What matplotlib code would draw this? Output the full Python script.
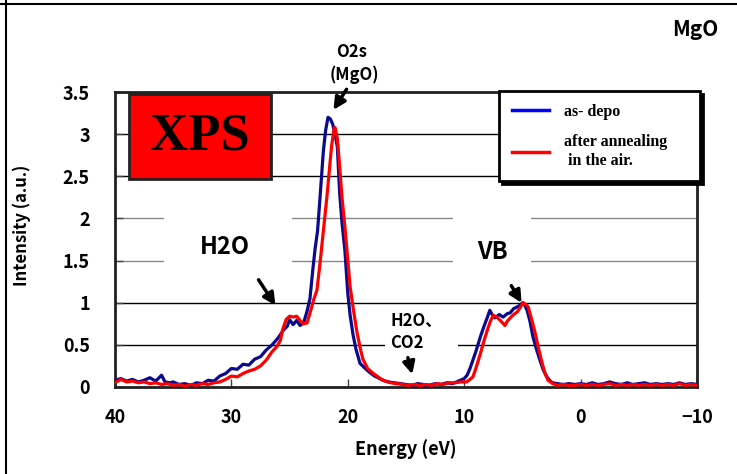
import matplotlib
matplotlib.use("Agg")
import matplotlib.pyplot as plt
from matplotlib.patches import Rectangle
from matplotlib.lines import Line2D

plt.rcParams['font.family'] = ['Noto Sans CJK JP', 'DejaVu Sans']

# as-depo spectrum (energy eV, intensity a.u.)
depo_energy = [40.0, 39.5, 39.0, 38.5, 38.0, 37.5, 37.0, 36.5, 36.0, 35.7, 35.3, 35.0,
               34.5, 34.0, 33.5, 33.0, 32.5, 32.0, 31.5, 31.0, 30.5, 30.0, 29.5, 29.0,
               28.5, 28.0, 27.5, 27.0, 26.5, 26.0, 25.5, 25.2, 25.0, 24.7, 24.4, 24.1,
               23.8, 23.5, 23.25, 23.0, 22.8, 22.6, 22.4, 22.1, 21.9, 21.7, 21.5, 21.3,
               21.1, 20.9, 20.7, 20.5, 20.25, 20.0, 19.8, 19.55, 19.3, 18.95, 18.5, 18.1,
               17.7, 17.4, 17.0, 16.5, 16.0, 15.5, 15.0, 14.5, 14.0, 13.5, 13.0, 12.5,
               12.0, 11.5, 11.0, 10.5, 10.0, 9.75, 9.5, 9.25, 9.0, 8.6, 8.3, 8.0,
               7.8, 7.6, 7.35, 7.0, 6.65, 6.3, 6.05, 5.75, 5.45, 5.2, 5.0, 4.8,
               4.6, 4.35, 4.1, 3.8, 3.5, 3.2, 2.9, 2.6, 2.4, 2.0, 1.5, 1.0,
               0.5, 0.0, -0.5, -1.0, -1.5, -2.0, -2.5, -3.0, -3.5, -4.0, -4.5, -5.0,
               -5.5, -6.0, -6.5, -7.0, -7.5, -8.0, -8.5, -9.0, -9.5, -10.0]
depo_int = [0.08, 0.10, 0.07, 0.09, 0.06, 0.08, 0.11, 0.07, 0.14, 0.06, 0.05, 0.06,
            0.03, 0.04, 0.02, 0.05, 0.04, 0.08, 0.07, 0.13, 0.16, 0.22, 0.21, 0.27,
            0.26, 0.33, 0.36, 0.44, 0.50, 0.58, 0.68, 0.72, 0.80, 0.74, 0.79, 0.73,
            0.76, 0.90, 1.05, 1.40, 1.65, 1.85, 2.22, 2.80, 3.05, 3.20, 3.18, 3.12,
            3.00, 2.85, 2.30, 1.95, 1.62, 1.11, 0.85, 0.62, 0.45, 0.28, 0.22, 0.17,
            0.13, 0.11, 0.08, 0.06, 0.05, 0.04, 0.03, 0.02, 0.04, 0.03, 0.02, 0.04,
            0.03, 0.05, 0.04, 0.07, 0.10, 0.14, 0.22, 0.32, 0.42, 0.60, 0.72, 0.83,
            0.91, 0.86, 0.82, 0.86, 0.83, 0.87, 0.88, 0.93, 0.95, 0.97, 1.00, 0.97,
            0.91, 0.78, 0.60, 0.45, 0.32, 0.20, 0.12, 0.07, 0.05, 0.04, 0.03, 0.04,
            0.03, 0.04, 0.03, 0.05, 0.03, 0.04, 0.06, 0.04, 0.03, 0.05, 0.03, 0.04,
            0.05, 0.03, 0.04, 0.03, 0.04, 0.03, 0.05, 0.03, 0.04, 0.03]

# after annealing in the air
anneal_energy = [40.0, 39.5, 39.0, 38.5, 38.0, 37.5, 37.0, 36.5, 36.0, 35.5, 35.0, 34.5,
                 34.0, 33.5, 33.0, 32.5, 32.0, 31.5, 31.0, 30.5, 30.0, 29.5, 29.0, 28.5,
                 28.0, 27.5, 27.0, 26.5, 26.1, 25.8, 25.6, 25.3, 25.0, 24.7, 24.4, 24.1,
                 23.8, 23.5, 23.2, 22.9, 22.65, 22.4, 22.2, 22.0, 21.8, 21.6, 21.4, 21.2,
                 21.1, 20.9, 20.7, 20.5, 20.25, 20.0, 19.8, 19.5, 19.2, 18.9, 18.7, 18.3,
                 17.8, 17.2, 16.8, 16.3, 15.8, 15.3, 14.8, 14.3, 13.8, 13.3, 12.8, 12.3,
                 11.8, 11.3, 10.8, 10.3, 9.8, 9.5, 9.25, 9.0, 8.6, 8.3, 8.0, 7.75,
                 7.5, 7.2, 6.9, 6.7, 6.5, 6.3, 6.05, 5.75, 5.45, 5.2, 4.95, 4.7,
                 4.5, 4.2, 3.9, 3.6, 3.3, 3.05, 2.8, 2.4, 2.0, 1.5, 1.0, 0.5,
                 0.0, -0.5, -1.0, -1.5, -2.0, -2.5, -3.0, -3.5, -4.0, -4.5, -5.0, -5.5,
                 -6.0, -6.5, -7.0, -7.5, -8.0, -8.5, -9.0, -9.5, -10.0]
anneal_int = [0.05, 0.09, 0.06, 0.07, 0.05, 0.06, 0.04, 0.05, 0.03, 0.04, 0.02, 0.03,
              0.01, 0.03, 0.02, 0.04, 0.03, 0.05, 0.06, 0.09, 0.13, 0.12, 0.16, 0.19,
              0.21, 0.25, 0.32, 0.42, 0.48, 0.55, 0.68, 0.80, 0.84, 0.83, 0.84, 0.79,
              0.75, 0.76, 0.90, 1.05, 1.15, 1.45, 1.72, 2.00, 2.25, 2.55, 2.85, 3.05,
              3.08, 2.95, 2.62, 2.25, 1.90, 1.50, 1.19, 0.90, 0.64, 0.44, 0.33, 0.22,
              0.16, 0.10, 0.07, 0.05, 0.04, 0.03, 0.02, 0.03, 0.02, 0.03, 0.02, 0.04,
              0.03, 0.05, 0.05, 0.06, 0.06, 0.09, 0.12, 0.22, 0.40, 0.55, 0.68, 0.78,
              0.85, 0.83, 0.79, 0.76, 0.73, 0.78, 0.82, 0.86, 0.89, 0.94, 1.00, 0.98,
              0.95, 0.80, 0.64, 0.45, 0.28, 0.16, 0.08, 0.04, 0.02, 0.03, 0.02, 0.02,
              0.03, 0.02, 0.03, 0.02, 0.03, 0.04, 0.02, 0.03, 0.02, 0.03, 0.02, 0.03,
              0.02, 0.03, 0.02, 0.03, 0.02, 0.04, 0.02, 0.03, 0.02]

xticks = [40, 30, 20, 10, 0, -10]
xtick_labels = ['40', '30', '20', '10', '0', '\u221210']
yticks = [0, 0.5, 1, 1.5, 2, 2.5, 3, 3.5]
ytick_labels = ['0', '0.5', '1', '1.5', '2', '2.5', '3', '3.5']
legend_labels = ['as- depo', 'after annealing\n in the air.']

fig = plt.figure(figsize=(7.37, 4.74), dpi=100)
ax = fig.add_axes([115/737, 1 - 387/474, 582/737, 295/474])

# horizontal grid
for y in yticks[1:-1]:
    c = '#888888' if y in (1.5, 2) else 'black'
    ax.axhline(y, color=c, lw=1, zorder=1)

# white backgrounds behind the labels hide the grid
for x0, x1, y0, y1 in [(24.8, 35.8, 1.3, 2.2), (4.3, 11.0, 1.3, 2.2), (10.5, 16.8, 0.35, 0.95)]:
    ax.add_patch(Rectangle((x1, y0), x0 - x1, y1 - y0, facecolor='white',
                           edgecolor='none', zorder=1.5))

ax.plot(depo_energy, depo_int, color='#0a0a8c', lw=2.3, zorder=3)
ax.plot(anneal_energy, anneal_int, color='#ff0000', lw=2.3, zorder=4)

ax.set_xlim(40, -10)
ax.set_ylim(0, 3.5)
ax.set_xticks(xticks)
ax.set_xticklabels(xtick_labels)
ax.set_yticks(yticks)
ax.set_yticklabels(ytick_labels)
ax.tick_params(axis='both', direction='in', length=6, width=1, color='#444444',
               labelsize=13)
ax.tick_params(axis='y', pad=18)
ax.tick_params(axis='x', pad=15)
for lab in ax.get_xticklabels() + ax.get_yticklabels():
    lab.set_fontweight('bold')
for s in ax.spines.values():
    s.set_linewidth(2)
    s.set_color('#202020')

ax.set_xlabel('Energy (eV)', fontsize=13, fontweight='bold')
ax.set_ylabel('Intensity (a.u.)', fontsize=12, fontweight='bold')
ax.xaxis.set_label_coords(0.5, -0.175)
ax.yaxis.set_label_coords(-0.145, 0.549)

# XPS box
ax.add_patch(Rectangle((26.6, 2.467), 12.2, 1.01, facecolor='#ff0000',
                       edgecolor='#222222', lw=2, zorder=5))
ax.text(32.7, 2.97, 'XPS', family='Liberation Serif', fontweight='bold',
        fontsize=38, ha='center', va='center', zorder=6)

# annotations
arrow = dict(arrowstyle='-|>', lw=2.5, color='black', mutation_scale=18)
ax.annotate('', xy=(21.36, 3.26), xytext=(19.98, 3.56), arrowprops=arrow,
            annotation_clip=False, zorder=6)
ax.text(19.64, 3.97, 'O2s', fontsize=12, fontweight='bold', ha='center',
        va='center', clip_on=False)
ax.text(19.47, 3.70, '(MgO)', fontsize=12, fontweight='bold', ha='center',
        va='center', clip_on=False)

ax.text(30.55, 1.66, 'H2O', fontsize=17, fontweight='bold', ha='center',
        va='center', zorder=6)
ax.annotate('', xy=(26.08, 0.94), xytext=(27.8, 1.30), arrowprops=arrow, zorder=6)

ax.text(7.61, 1.60, 'VB', fontsize=17, fontweight='bold', ha='center',
        va='center', zorder=6)
ax.annotate('', xy=(4.95, 0.97), xytext=(6.07, 1.23), arrowprops=arrow, zorder=6)

ax.text(16.37, 0.79, 'H2O\u3001', fontsize=12, fontweight='bold', ha='left',
        va='center', zorder=6)
ax.text(16.37, 0.52, 'CO2', fontsize=12, fontweight='bold', ha='left',
        va='center', zorder=6)
ax.annotate('', xy=(14.4, 0.12), xytext=(14.9, 0.38), arrowprops=arrow, zorder=6)

handles = [Line2D([], [], color='#0000ff', lw=2.5), Line2D([], [], color='#ff0000', lw=2.5)]
leg = ax.legend(handles, legend_labels, loc='upper left',
                bbox_to_anchor=(499/737, 1 - 182/474, 201/737, 91/474),
                bbox_transform=fig.transFigure, mode='expand', borderaxespad=0,
                prop=dict(family='Liberation Serif', weight='bold', size=11.5),
                frameon=True, fancybox=False, framealpha=1, edgecolor='black',
                shadow={'color': 'black', 'alpha': 1}, borderpad=0.8,
                labelspacing=0.9, handlelength=2.3, handletextpad=1.0)
leg.get_frame().set_linewidth(2)
leg.set_zorder(10)

fig.text(0.975, 1 - 30/474, 'MgO', fontsize=15, fontweight='bold', ha='right',
         va='center')

# chart area border (top and left)
fig.add_artist(Line2D([0, 1], [1 - 4/474, 1 - 4/474], color='black', lw=1.5))
fig.add_artist(Line2D([5.5/737, 5.5/737], [0, 1], color='black', lw=1.5))

fig.savefig('out.png', dpi=100)
